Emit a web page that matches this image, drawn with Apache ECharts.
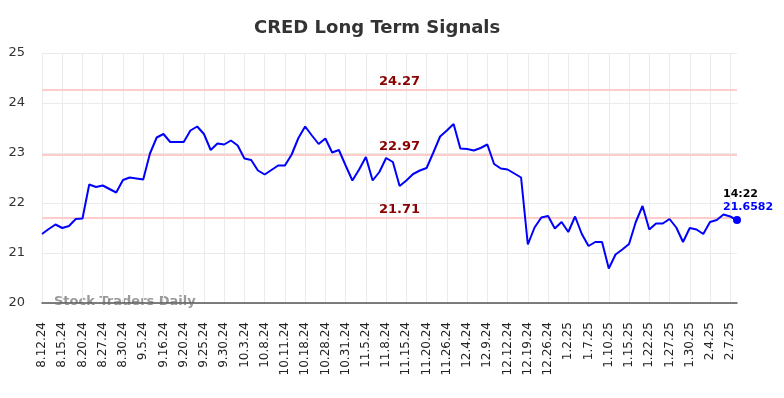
<!DOCTYPE html>
<html>
<head>
<meta charset="utf-8">
<script src="https://cdn.jsdelivr.net/npm/echarts@6/dist/echarts.min.js"></script>
<style>
  html, body { margin: 0; padding: 0; background: #fff; }
  #chart { width: 784px; height: 398px; }
</style>
</head>
<body>
<div id="chart"></div>
<script>
// dates, one per point; every third one is shown on the axis
const dates = [
  '8.12.24', '8.13.24', '8.14.24', '8.15.24', '8.16.24', '8.19.24',
  '8.20.24', '8.22.24', '8.23.24', '8.27.24', '8.28.24', '8.29.24',
  '8.30.24', '9.3.24', '9.4.24', '9.5.24', '9.9.24', '9.12.24',
  '9.16.24', '9.18.24', '9.19.24', '9.20.24', '9.23.24', '9.24.24',
  '9.25.24', '9.26.24', '9.27.24', '9.30.24', '10.1.24', '10.2.24',
  '10.3.24', '10.4.24', '10.7.24', '10.8.24', '10.9.24', '10.10.24',
  '10.11.24', '10.15.24', '10.17.24', '10.18.24', '10.22.24', '10.25.24',
  '10.28.24', '10.29.24', '10.30.24', '10.31.24', '11.1.24', '11.4.24',
  '11.5.24', '11.6.24', '11.7.24', '11.8.24', '11.12.24', '11.13.24',
  '11.15.24', '11.18.24', '11.19.24', '11.20.24', '11.21.24', '11.25.24',
  '11.26.24', '12.2.24', '12.3.24', '12.4.24', '12.5.24', '12.6.24',
  '12.9.24', '12.10.24', '12.11.24', '12.12.24', '12.16.24', '12.18.24',
  '12.19.24', '12.20.24', '12.23.24', '12.26.24', '12.27.24', '12.31.24',
  '1.2.25', '1.3.25', '1.6.25', '1.7.25', '1.8.25', '1.9.25',
  '1.10.25', '1.13.25', '1.14.25', '1.15.25', '1.17.25', '1.21.25',
  '1.22.25', '1.23.25', '1.24.25', '1.27.25', '1.28.25', '1.29.25',
  '1.30.25', '1.31.25', '2.3.25', '2.4.25', '2.5.25', '2.6.25',
  '2.7.25', '2.10.25'
];

const prices = [
  21.38, 21.48, 21.57, 21.50, 21.54, 21.68, 21.69, 22.37, 22.32, 22.35,
  22.28, 22.21, 22.46, 22.51, 22.49, 22.47, 22.99, 23.31, 23.38, 23.22,
  23.22, 23.22, 23.45, 23.53, 23.38, 23.06, 23.19, 23.17, 23.25, 23.15,
  22.89, 22.86, 22.65, 22.57, 22.66, 22.75, 22.75, 22.97, 23.30, 23.53,
  23.35, 23.18, 23.29, 23.01, 23.06, 22.75, 22.45, 22.67, 22.92, 22.45,
  22.62, 22.90, 22.82, 22.34, 22.45, 22.58, 22.65, 22.70, 23.01, 23.33,
  23.45, 23.58, 23.09, 23.08, 23.05, 23.10, 23.17, 22.78, 22.69, 22.67,
  22.59, 22.51, 21.17, 21.51, 21.71, 21.74, 21.49, 21.62, 21.42, 21.73,
  21.38, 21.14, 21.22, 21.22, 20.69, 20.97, 21.07, 21.18, 21.62, 21.94,
  21.47, 21.59, 21.59, 21.68, 21.51, 21.22, 21.50, 21.47, 21.38, 21.62,
  21.66, 21.77, 21.73, 21.6582
];

// horizontal signal levels
const levels = [24.27, 22.97, 21.71];

const lastTime = '14:22';
const yTicks = { min: 20, max: 25, step: 1 };

const chart = echarts.init(document.getElementById('chart'), null, { renderer: 'canvas' });

const lastIdx = prices.length - 1;
const lastVal = prices[lastIdx];

chart.setOption({
  animation: false,
  textStyle: { fontFamily: 'DejaVu Sans' },
  title: {
    text: 'CRED Long Term Signals',
    left: 249,
    top: 14,
    textStyle: { fontSize: 18, fontWeight: 'bold', color: '#333', fontFamily: 'DejaVu Sans' }
  },
  grid: { left: 42, right: 47, top: 53, bottom: 95 },
  xAxis: {
    type: 'category',
    data: dates,
    boundaryGap: false,
    axisLine: { lineStyle: { color: '#555', width: 1.5 } },
    axisTick: { show: false },
    axisLabel: {
      interval: 2,
      rotate: 90,
      margin: 19,
      fontSize: 12,
      color: '#222',
      fontFamily: 'DejaVu Sans'
    },
    splitLine: { show: true, interval: 2, lineStyle: { color: '#ebebeb', width: 1 } }
  },
  yAxis: {
    type: 'value',
    min: yTicks.min,
    max: yTicks.max,
    interval: yTicks.step,
    axisLine: { show: false },
    axisTick: { show: false },
    axisLabel: { fontSize: 13, color: '#333', margin: 17, fontFamily: 'DejaVu Sans' },
    splitLine: { lineStyle: { color: '#ebebeb', width: 1 } }
  },
  graphic: [{
    type: 'text',
    left: 54,
    top: 295,
    style: {
      text: 'Stock Traders Daily',
      fill: '#999',
      font: 'bold 13px DejaVu Sans'
    }
  }],
  series: [{
    type: 'line',
    data: prices,
    showSymbol: false,
    symbol: 'none',
    lineStyle: { color: '#0000ff', width: 2 },
    itemStyle: { color: '#0000ff' },
    z: 3,
    markLine: {
      silent: true,
      symbol: 'none',
      z: 1,
      lineStyle: { color: '#ffcccc', width: 2, type: 'solid' },
      label: {
        position: 'insideMiddleTop',
        distance: 1,
        padding: [0, 0, 0, 20],
        color: '#8b0000',
        fontWeight: 'bold',
        fontSize: 13,
        fontFamily: 'DejaVu Sans',
        formatter: p => p.value.toFixed(2)
      },
      data: levels.map(l => ({ yAxis: l }))
    },
    markPoint: {
      silent: true,
      symbol: 'circle',
      symbolSize: 8,
      itemStyle: { color: '#0000ff' },
      label: {
        show: true,
        position: [-10, -28],
        align: 'left',
        formatter: () => '{t|' + lastTime + '}\n{v|' + lastVal + '}',
        rich: {
          t: { color: '#000', fontWeight: 'bold', fontSize: 11, lineHeight: 13, fontFamily: 'DejaVu Sans' },
          v: { color: '#0000ff', fontWeight: 'bold', fontSize: 11, lineHeight: 13, fontFamily: 'DejaVu Sans' }
        }
      },
      data: [{ coord: [lastIdx, lastVal] }]
    }
  }]
});
</script>
</body>
</html>
